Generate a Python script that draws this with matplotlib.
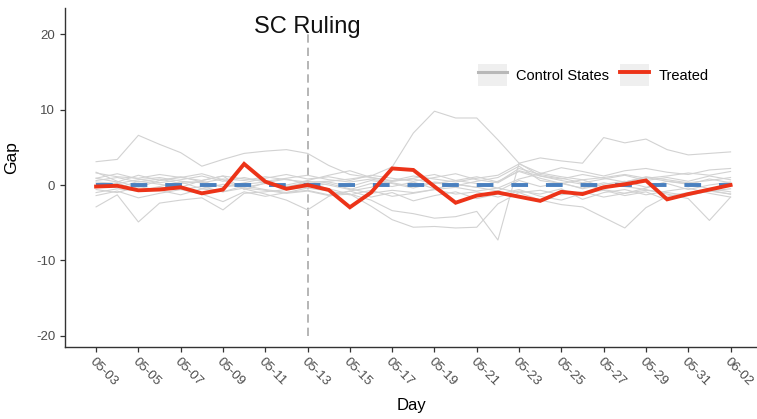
import numpy as np
import matplotlib
matplotlib.use("Agg")
from matplotlib import pyplot as plt
from matplotlib.lines import Line2D
from matplotlib.patches import Rectangle
from matplotlib.legend_handler import HandlerTuple

plt.rcParams['font.family'] = ['Liberation Sans', 'DejaVu Sans']
plt.rcParams['axes.unicode_minus'] = False

days = ['05-03', '05-04', '05-05', '05-06', '05-07', '05-08', '05-09', '05-10',
        '05-11', '05-12', '05-13', '05-14', '05-15', '05-16', '05-17', '05-18',
        '05-19', '05-20', '05-21', '05-22', '05-23', '05-24', '05-25', '05-26',
        '05-27', '05-28', '05-29', '05-30', '05-31', '06-01', '06-02']
ruling_day = '05-13'

# treated state gap
treated = [-0.2, -0.1, -0.7, -0.6, -0.3, -1.1, -0.6, 2.8, 0.45, -0.5, 0.0,
           -0.65, -2.95, -1.0, 2.2, 2.0, -0.2, -2.35, -1.4, -1.0, -1.55, -2.1,
           -0.9, -1.2, -0.3, 0.1, 0.6, -1.9, -1.2, -0.6, 0.0]

# average of the controls (flat)
control_avg = [0, 0, 0, 0, 0, 0, 0, 0, 0, 0, 0, 0, 0, 0, 0, 0,
               0, 0, 0, 0, 0, 0, 0, 0, 0, 0, 0, 0, 0, 0, 0]

# placebo gaps, one list per control state
ctrl_a = [3.1, 3.4, 6.6, 5.4, 4.3, 2.5, 3.4, 4.2, 4.5, 4.7, 4.2, 2.6, 1.4, 1.0, 0.6, 1.2,
          0.8, 0.4, 0.9, 1.3, 2.8, 1.6, 1.1, 0.7, 1.0, 1.4, 0.9, 1.2, 1.6, 1.3, 1.8]
ctrl_b = [0.4, 0.2, 0.7, 1.0, 0.5, 0.3, 0.8, 0.6, 1.1, 0.7, 0.4, 0.5, 0.8, 1.2, 2.4, 6.9,
          9.8, 8.9, 8.9, 6.0, 2.9, 3.6, 3.2, 2.9, 6.3, 5.6, 6.1, 4.7, 4.0, 4.2, 4.4]
ctrl_c = [-2.9, -1.3, -4.9, -2.4, -2.0, -1.7, -3.3, -1.1, -0.9, -0.6, -0.3, 0.2, -0.5, -1.1,
          -0.7, -1.0, -0.6, -0.3, -0.8, -0.4, -1.0, -0.7, -1.3, -0.9, -1.6, -1.1, -0.7, -1.0,
          -1.4, -0.8, -0.5]
ctrl_d = [-1.0, -0.5, -0.8, -0.3, -0.6, -0.2, -0.9, -0.4, -0.7, -1.1, -0.8, -1.4, -1.2, -2.0,
          -3.4, -3.8, -4.4, -4.2, -3.5, -7.3, 2.9, 1.2, 0.6, 0.1, -0.6, -1.1, -0.4, 0.5, 0.2,
          -0.5, -0.9]
ctrl_e = [0.6, 1.0, 0.4, 0.8, 0.2, 0.5, -0.3, 0.1, 0.4, -0.2, 0.3, -0.5, -1.2, -2.8, -4.6,
          -5.6, -5.5, -5.7, -5.6, -2.5, -1.0, -2.0, -2.6, -2.9, -4.3, -5.7, -3.0, -1.5, -1.0,
          -0.7, -1.2]
ctrl_f = [1.6, 1.1, 0.9, 1.4, 1.0, 0.6, 1.2, 0.8, 0.5, 0.9, 1.3, 0.7, 0.4, 0.8, 0.3, -0.2,
          0.4, 0.1, -0.3, 0.5, 1.8, 0.9, 0.2, -0.4, 0.3, -0.2, -0.6, -1.2, -1.8, -4.7, -1.6]
ctrl_g = [0.9, 0.4, 1.3, 0.6, 1.0, 1.5, 0.7, -0.5, -1.2, -2.0, -3.3, -1.5, -0.8, -0.3, 0.5,
          0.9, 1.4, 0.6, 0.2, -0.4, 0.8, 1.5, 2.3, 1.8, 1.2, 1.9, 2.2, 1.7, 1.4, 2.0, 2.2]
ctrl_h = [1.7, 0.5, -0.3, 0.6, 1.1, 0.4, -0.2, 0.3, 0.9, 1.4, 0.8, 1.1, 0.6, 1.3, 0.9, 0.5,
          1.0, 1.5, 0.7, 0.3, 1.9, 1.2, 0.8, 1.4, 0.9, 0.4, 1.1, 0.7, 0.3, 0.6, 1.0]
ctrl_i = [-0.6, -1.0, -0.2, -0.7, -1.3, -0.5, -0.9, -0.1, -0.6, -1.0, -0.4, -0.8, -1.3, -0.7,
          -1.5, -1.1, -0.6, -1.2, -0.9, -1.6, -0.8, -1.2, -0.5, -1.9, -1.0, -0.6, -1.3, -0.8,
          -0.4, -1.1, -1.6]
ctrl_j = [0.2, -0.4, 0.5, 0.1, -0.3, 0.6, 1.2, -0.6, 0.3, 0.8, 0.1, 0.4, -0.2, 0.6, 0.2, -0.4,
          0.3, -0.1, 0.5, 1.0, 2.5, 0.6, 0.2, 0.7, -0.3, 0.4, 1.0, 0.5, 0.1, 0.8, 0.3]
ctrl_k = [-1.4, -0.8, -1.7, -1.1, -0.6, -1.2, -2.2, -0.9, -1.5, -1.0, -0.7, -1.3, -0.8, -1.6,
          -1.0, -2.1, -1.4, -0.9, -1.8, -1.2, -0.6, -1.5, -2.0, -1.1, -0.7, -1.4, -0.9, -2.0,
          -1.3, -0.8, -1.2]
ctrl_l = [0.9, 1.5, 0.8, 0.3, 0.7, 1.2, 0.5, 1.0, 0.4, 0.0, 0.6, 1.3, 1.9, 1.0, 0.5, 0.8,
          0.2, 0.6, 1.1, 0.4, 2.2, 1.4, 0.9, 0.3, 0.8, 1.3, 0.6, 1.0, 0.5, 1.2, 0.7]
ctrl_m = [-0.3, 0.3, -0.8, -0.2, 0.4, -0.5, 0.1, -0.3, 0.2, -0.4, 0.5, 0.0, -0.6, 0.2, -0.2,
          0.4, -0.5, 0.1, -0.3, -0.8, 0.6, -0.2, 0.3, -0.5, 0.1, 0.5, -0.3, 0.2, -0.6, 0.0, 0.4]
controls = [ctrl_a, ctrl_b, ctrl_c, ctrl_d, ctrl_e, ctrl_f, ctrl_g,
            ctrl_h, ctrl_i, ctrl_j, ctrl_k, ctrl_l, ctrl_m]

GRAY = '#d2d2d2'
RED = '#ec3318'
BLUE = '#4a80bf'

fig = plt.figure(figsize=(7.57, 4.19), dpi=100)
ax = fig.add_axes([65 / 757, 1 - 347 / 419, (757 - 65) / 757, (347 - 8) / 419])

x = np.arange(len(days))
for c in controls:
    ax.plot(x, c, color=GRAY, lw=0.8, zorder=1)

ax.plot(x, control_avg, color=BLUE, lw=2.8, linestyle=(0, (4.3, 4.6)), zorder=2)
ax.plot(x, treated, color=RED, lw=2.8, zorder=3, solid_joinstyle='miter')

xr = days.index(ruling_day)
ax.vlines(xr, -20, 20, colors='#a9a9a9', lw=1.2, linestyles=(0, (5, 3)), zorder=0)
ax.text(xr, 20.2, 'SC Ruling', ha='center', va='baseline', fontsize=17, color='#111111')

ax.set_xlim(-1.47, 31.25)
ax.set_ylim(-21.5, 23.5)
ax.set_yticks([-20, -10, 0, 10, 20])
ax.set_xticks(x[::2], labels=days[::2])
for lbl in ax.get_xticklabels():
    lbl.set_rotation(-45)
    lbl.set_ha('left')
    lbl.set_va('top')
    lbl.set_rotation_mode('anchor')

ax.tick_params(axis='both', colors='#333333', labelcolor='#4d4d4d', labelsize=9.5,
               length=3.5, width=0.9)
ax.tick_params(axis='x', pad=3)
for side in ['top', 'right']:
    ax.spines[side].set_visible(False)
for side in ['left', 'bottom']:
    ax.spines[side].set_color('#333333')
    ax.spines[side].set_linewidth(1.0)

ax.set_xlabel('Day', fontsize=12, labelpad=7)
ax.set_ylabel('Gap', fontsize=12.5)
ax.yaxis.set_label_coords(-0.066, 0.56)

# legend keys with grey background boxes like ggplot
box1 = Rectangle((0, 0), 1, 1, facecolor='#efefef', edgecolor='none')
box2 = Rectangle((0, 0), 1, 1, facecolor='#efefef', edgecolor='none')
key_ctrl = Line2D([], [], color='#b8b8b8', lw=2.2)
key_trt = Line2D([], [], color=RED, lw=2.8)
ax.legend([(box1, key_ctrl), (box2, key_trt)], ['Control States', 'Treated'],
          handler_map={tuple: HandlerTuple(ndivide=1, pad=0)},
          loc='center', bbox_to_anchor=(0.763, 0.802), ncol=2, frameon=False,
          fontsize=10.5, handlelength=2.0, handleheight=2.0,
          handletextpad=0.6, columnspacing=0.8)

fig.savefig('out.png', dpi=100)
